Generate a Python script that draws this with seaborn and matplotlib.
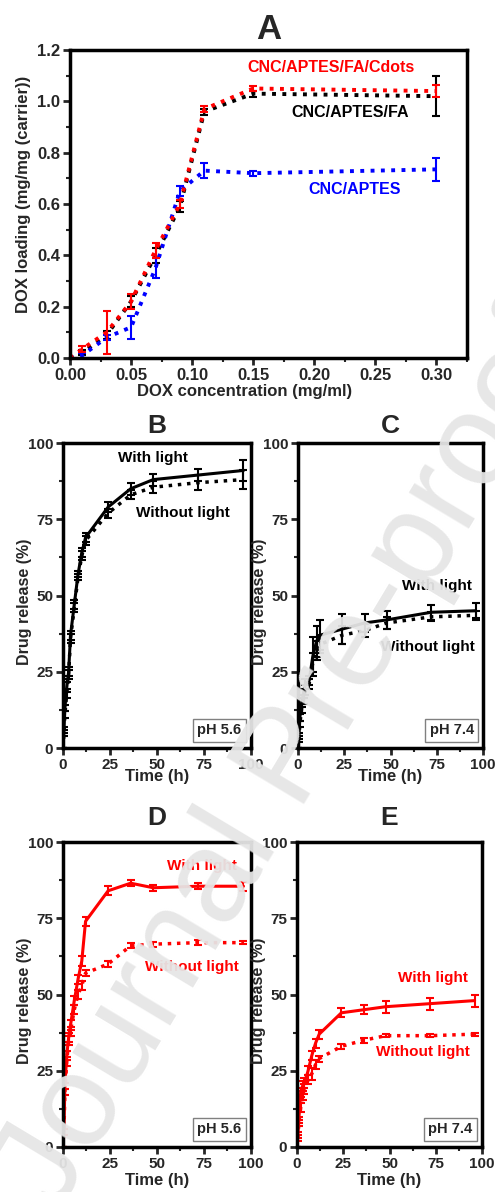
import numpy as np
import pandas as pd
import seaborn as sns
import matplotlib.pyplot as plt
from matplotlib.ticker import MultipleLocator

# ---- panel A data: DOX loading vs DOX concentration
conc = [0.0, 0.01, 0.03, 0.05, 0.07, 0.09, 0.11, 0.15, 0.30]
load_cdots = [0.0, 0.035, 0.10, 0.22, 0.42, 0.60, 0.97, 1.05, 1.04]
err_cdots = [0.0, 0.012, 0.085, 0.03, 0.03, 0.015, 0.012, 0.01, 0.025]
load_fa = [0.0, 0.02, 0.09, 0.22, 0.40, 0.59, 0.96, 1.03, 1.02]
err_fa = [0.0, 0.01, 0.015, 0.02, 0.03, 0.02, 0.012, 0.012, 0.078]
load_aptes = [0.0, 0.01, 0.08, 0.12, 0.35, 0.65, 0.73, 0.72, 0.735]
err_aptes = [0.0, 0.01, 0.01, 0.045, 0.04, 0.02, 0.03, 0.01, 0.045]

# ---- release data (time in h)
time_h = [0, 0.5, 1, 2, 3, 4, 6, 8, 10, 12, 24, 36, 48, 72, 96]

b_light = [0, 6, 13, 20, 25, 37, 47, 57, 64, 69, 79, 85, 88, 89.5, 91]
b_light_err = [0, 1, 1, 1.5, 1.5, 1.5, 1.5, 1, 1.5, 1.5, 1.5, 2, 2, 2, 3.5]
b_dark = [0, 5, 11, 18, 24, 36, 46, 56, 63, 68, 77, 83, 85.5, 87, 88]
b_dark_err = [0, 1, 1, 1.5, 1.5, 1.5, 1.5, 1, 1.5, 1.5, 1.5, 1.5, 2, 2.5, 3]

c_light = [0, 4, 10, 15, 18, 21, 22, 30, 35, 37, 39, 41, 42, 44.5, 45]
c_light_err = [0, 1, 1, 1.5, 1.5, 1.5, 1.5, 6.5, 5, 5, 5, 3, 3, 2.5, 2.5]
c_dark = [0, 3, 8, 13, 16, 19, 21, 28, 32, 34, 37, 38.5, 41, 43, 43.5]
c_dark_err = [0, 1, 1, 1.5, 1.5, 1.5, 1.5, 3, 3, 3, 3, 2, 2, 1.5, 1.5]

d_light = [0, 5, 20, 30, 36, 40, 48, 55, 61, 74, 84, 86.5, 85, 85.5, 85.5]
d_light_err = [0, 1, 1, 1.5, 1.5, 1.5, 1.5, 1.5, 1.5, 1.5, 1.5, 1, 1, 1, 1.5]
d_dark = [0, 5, 18, 28, 35, 38, 45, 50, 53, 57, 60, 66, 66.5, 67, 67]
d_dark_err = [0, 1, 1, 1.5, 1.5, 1.5, 1.5, 1.5, 1.5, 1, 1, 0.8, 0.8, 0.8, 0.5]

e_light = [0, 4, 9, 18, 20, 21, 25, 30, 34, 37, 44, 45, 46, 47, 48]
e_light_err = [0, 1, 1, 1.5, 1.5, 1.5, 1.5, 1.5, 1.5, 1.5, 1.5, 1.5, 2, 2, 2]
e_dark = [0, 3, 8, 13, 17, 19, 22, 24, 27, 29, 33, 35, 36.5, 36.5, 37]
e_dark_err = [0, 1, 1, 1.5, 1.5, 1.5, 1.5, 2, 1.5, 1, 0.8, 0.8, 0.5, 0.5, 0.5]

sns.set_style('ticks')
plt.rcParams['font.family'] = ['Liberation Sans', 'DejaVu Sans']
plt.rcParams['font.weight'] = 'bold'
plt.rcParams['axes.labelweight'] = 'bold'

W, H = 495, 1192
fig = plt.figure(figsize=(W / 100, H / 100), dpi=100)


def add_ax(l, t, r, b):
    # pixel box -> figure fraction
    return fig.add_axes([l / W, 1 - b / H, (r - l) / W, (b - t) / H])


def style_ax(ax, xmaj, xmin, ymaj, ymin, fs=11):
    for sp in ax.spines.values():
        sp.set_linewidth(2.5)
        sp.set_color('black')
    ax.xaxis.set_major_locator(MultipleLocator(xmaj))
    ax.xaxis.set_minor_locator(MultipleLocator(xmin))
    ax.yaxis.set_major_locator(MultipleLocator(ymaj))
    ax.yaxis.set_minor_locator(MultipleLocator(ymin))
    ax.tick_params(which='major', direction='out', length=5, width=2, labelsize=fs, pad=2)
    ax.tick_params(which='minor', direction='out', length=3, width=1.5)
    ax.tick_params(top=False, right=False)
    for lab in ax.get_xticklabels() + ax.get_yticklabels():
        lab.set_fontweight('bold')


def draw_series(ax, x, y, err, color, ls, lw):
    df = pd.DataFrame({'x': x, 'y': y})
    sns.lineplot(data=df, x='x', y='y', ax=ax, color=color, linestyle=ls,
                 linewidth=lw, legend=False, errorbar=None)
    ax.errorbar(x, y, yerr=err, fmt='none', ecolor=color, elinewidth=1.5,
                capsize=3, capthick=1.5)


# ---- panel A
axA = add_ax(70, 50, 467, 358)
draw_series(axA, conc, load_fa, err_fa, 'black', ':', 2.8)
draw_series(axA, conc, load_aptes, err_aptes, '#0000ff', ':', 2.8)
draw_series(axA, conc, load_cdots, err_cdots, '#ff0000', ':', 2.8)
axA.set_xlim(0, 0.325)
axA.set_ylim(0, 1.2)
style_ax(axA, 0.05, 0.025, 0.2, 0.1, fs=12)
axA.xaxis.set_major_formatter(plt.FormatStrFormatter('%.2f'))
axA.yaxis.set_major_formatter(plt.FormatStrFormatter('%.1f'))
axA.set_xlabel('DOX concentration (mg/ml)', fontsize=12, fontweight='bold')
axA.set_ylabel('DOX loading (mg/mg (carrier))', fontsize=12, fontweight='bold')
axA.xaxis.set_label_coords(0.44, -0.083)
axA.yaxis.set_label_coords(-0.098, 0.53)
axA.set_title('A', fontsize=25, fontweight='bold', pad=8)
axA.text(0.214, 1.13, 'CNC/APTES/FA/Cdots', color='#ff0000', fontsize=11.5,
         fontweight='bold', ha='center', va='center')
axA.text(0.229, 0.955, 'CNC/APTES/FA', color='black', fontsize=11.5,
         fontweight='bold', ha='center', va='center')
axA.text(0.233, 0.655, 'CNC/APTES', color='#0000ff', fontsize=11.5,
         fontweight='bold', ha='center', va='center')

# ---- release panels
panels = [
    ('B', (63, 443, 251, 748), b_light, b_light_err, b_dark, b_dark_err, 'black', 'pH 5.6',
     (48, 95), (64, 77), True),
    ('C', (298, 443, 483, 748), c_light, c_light_err, c_dark, c_dark_err, 'black', 'pH 7.4',
     (75, 53), (70, 33), True),
    ('D', (63, 842, 251, 1147), d_light, d_light_err, d_dark, d_dark_err, '#ff0000', 'pH 5.6',
     (74, 92), (68.5, 59), False),
    ('E', (297, 842, 482, 1147), e_light, e_light_err, e_dark, e_dark_err, '#ff0000', 'pH 7.4',
     (73.5, 55.4), (68, 31), False),
]

for name, box, yl, el, yd, ed, col, ph, pos_l, pos_d, upper in panels:
    ax = add_ax(*box)
    draw_series(ax, time_h, yd, ed, col, ':', 2.5)
    draw_series(ax, time_h, yl, el, col, '-', 2.2)
    ax.set_xlim(0, 100)
    ax.set_ylim(0, 100)
    style_ax(ax, 25, 12.5, 25, 12.5, fs=11)
    ax.set_xlabel('Time (h)', fontsize=12, fontweight='bold')
    ax.set_ylabel('Drug release (%)', fontsize=11.5, fontweight='bold')
    ax.xaxis.set_label_coords(0.5, -0.07 if upper else -0.085)
    ax.yaxis.set_label_coords(-0.165, 0.48)
    ax.set_title(name, fontsize=19, fontweight='bold', pad=7 if upper else 12)
    ax.text(pos_l[0], pos_l[1], 'With light', color=col, fontsize=11,
            fontweight='bold', ha='center', va='center')
    ax.text(pos_d[0], pos_d[1], 'Without light', color=col, fontsize=11,
            fontweight='bold', ha='center', va='center')
    ax.text(0.95, 0.035, ph, transform=ax.transAxes, fontsize=10.5, fontweight='bold',
            ha='right', va='bottom',
            bbox=dict(boxstyle='square,pad=0.3', fc='white', ec='#808080', lw=1))

# watermark
fig.text(290 / W, 1 - 760 / H, 'Journal Pre-proof', rotation=59, fontsize=95,
         fontweight='normal', color='#e6e6e6', alpha=0.95, ha='center', va='center',
         rotation_mode='anchor', zorder=20)

fig.savefig('out.png', dpi=100)
